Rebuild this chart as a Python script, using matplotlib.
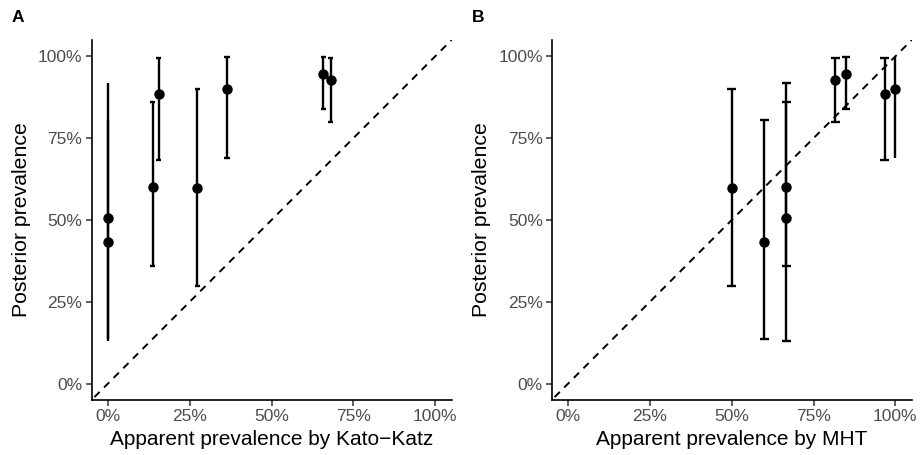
import matplotlib
matplotlib.use("Agg")
import matplotlib.pyplot as plt
from matplotlib.ticker import PercentFormatter

plt.rcParams['font.family'] = ['Liberation Sans', 'DejaVu Sans']

# apparent prevalence (%) by each diagnostic, posterior prevalence with 95% interval
kato_katz = [0, 0, 13.7, 15.5, 27.3, 36.4, 65.8, 68.1]
mht = [66.7, 60.0, 66.7, 96.7, 50.0, 100.0, 84.9, 81.7]
posterior = [50.7, 43.3, 60.2, 88.5, 59.9, 90.0, 94.6, 92.7]
lower = [13.1, 13.7, 35.8, 68.3, 29.8, 69.0, 83.9, 79.9]
upper = [92.0, 80.5, 86.1, 99.4, 89.9, 99.7, 99.8, 99.4]

ticks = [0, 25, 50, 75, 100]

fig = plt.figure(figsize=(9.21, 4.55), dpi=100)
ax1 = fig.add_axes([91.5/921, 55/455, 360/921, 360/455])
ax2 = fig.add_axes([551.7/921, 55/455, 360/921, 360/455])


def panel(ax, x, xlabel, capw, letter):
    ax.plot([-10, 110], [-10, 110], color='black', ls=(0, (3.8, 3.2)), lw=1.4, zorder=1)
    ax.vlines(x, lower, upper, color='black', lw=1.7, zorder=2)
    # caps are dropped where they would fall outside 0-100%
    for xi, lo, hi in zip(x, lower, upper):
        if xi - capw >= 0 and xi + capw <= 100:
            ax.hlines([lo, hi], xi - capw, xi + capw, color='black', lw=1.7, zorder=2)
    ax.plot(x, posterior, 'o', color='black', ms=6.5, zorder=3)

    ax.set_xlim(-5, 105)
    ax.set_ylim(-5, 105)
    ax.set_xticks(ticks)
    ax.set_yticks(ticks)
    ax.xaxis.set_major_formatter(PercentFormatter(decimals=0))
    ax.yaxis.set_major_formatter(PercentFormatter(decimals=0))
    ax.tick_params(labelsize=12.5, labelcolor='#4D4D4D', color='#333333',
                   length=4, width=1.1, pad=2.5)
    ax.set_xlabel(xlabel, fontsize=15, labelpad=4)
    ax.set_ylabel('Posterior prevalence', fontsize=15.3, labelpad=5)
    for spine in ['top', 'right']:
        ax.spines[spine].set_visible(False)
    for spine in ['left', 'bottom']:
        ax.spines[spine].set_linewidth(1.2)
    ax.text(-0.221, 1.0625, letter, transform=ax.transAxes, fontsize=12.5,
            fontweight='bold', va='center', ha='left')


panel(ax1, kato_katz, 'Apparent prevalence by Kato\u2212Katz', 0.8, 'A')
panel(ax2, mht, 'Apparent prevalence by MHT', 1.3, 'B')

fig.savefig("out.png", dpi=100)
